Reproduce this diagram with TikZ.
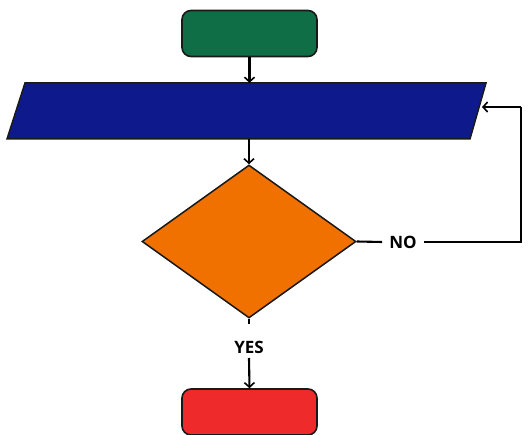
\documentclass[tikz,border=0pt]{standalone}
\usepackage{fontspec}
\setmainfont{Open Sans}
\usetikzlibrary{arrows.meta}
\usetikzlibrary{shapes.geometric}
\definecolor{cgreen}{RGB}{16,110,70}
\definecolor{cblue}{RGB}{14,26,140}
\definecolor{corange}{RGB}{240,112,0}
\definecolor{cred}{RGB}{238,42,42}
\definecolor{cedge}{RGB}{25,25,25}
\tikzset{
  term/.style={draw=cedge,line width=1.6pt,rounded corners=9pt,minimum width=135pt,minimum height=46pt,inner sep=0pt},
  ioframe/.style={minimum width=462pt,minimum height=56pt,inner sep=0pt},
  decbox/.style={diamond,draw=cedge,line width=1.5pt,fill=corange,minimum width=214pt,minimum height=153pt,inner sep=0pt},
  lbl/.style={font=\bfseries\fontsize{17}{20}\selectfont,inner sep=0pt},
  conn/.style={line width=2.1pt,draw=black},
  arr/.style={conn,-{Straight Barb[length=4.5pt,width=10pt,line width=1.6pt]}}
}
\begin{document}
\begin{tikzpicture}[x=1pt,y=-1pt]
\useasboundingbox (0,0) rectangle (528,435);
\node[term,fill=cgreen] (start) at (249.5,33.5) {};
\node[ioframe] (io) at (246.5,111) {};
\filldraw[fill=cblue,draw=cedge,line width=1.5pt,line join=miter]
  (25,83) -- (486,83) -- (470,139) -- (7,139) -- cycle;
\node[decbox] (dec) at (249,241.5) {};
\node[term,fill=cred] (stop) at (249.5,412) {};
\node[lbl] (no) at (403,242) {NO};
\node[lbl] (yes) at (249,347) {YES};
\coordinate (nr) at (521,242);
\coordinate (tr) at (521,107);
\coordinate (ioe) at (482,107);
\coordinate (ys) at (249,324);
\coordinate (ye) at (249,358);
\draw[arr] (start.south) -- (start.south |- io.north);
\draw[arr] (io.south -| dec.north) -- (dec.north);
\draw[conn] (dec.east) -- ([xshift=-7pt]no.west);
\draw[conn,line join=miter] ([xshift=7pt]no.east) -- (nr) -- (tr);
\draw[arr] (tr) -- (ioe);
\draw[conn] (dec.south) -- (ys);
\draw[arr] (ye) -- (stop.north);
\end{tikzpicture}
\end{document}
